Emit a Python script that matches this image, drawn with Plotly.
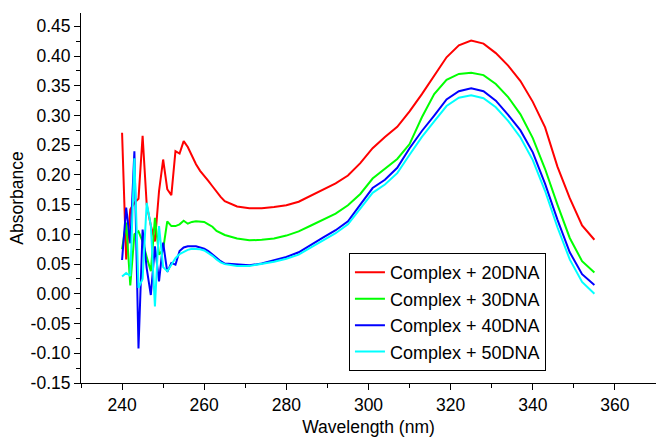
import plotly.graph_objects as go

wavelength = list(range(240, 266)) + [268, 271, 274, 277, 280, 283, 286, 289, 292, 295, 298,
                                      301, 304, 307, 310, 313, 316, 319, 322, 325, 328, 331,
                                      334, 337, 340, 343, 346, 349, 352, 355]

dna20 = [0.271, 0.058, 0.142, 0.153, 0.160, 0.266, 0.150, 0.115, 0.088, 0.173,
         0.226, 0.176, 0.166, 0.240, 0.236, 0.257, 0.247, 0.232, 0.218, 0.207,
         0.199, 0.190, 0.181, 0.171, 0.163, 0.156,
         0.147, 0.144, 0.144, 0.146, 0.149, 0.155, 0.165, 0.175, 0.186, 0.199, 0.220,
         0.245, 0.264, 0.281, 0.307, 0.336, 0.367, 0.398, 0.418, 0.426, 0.421, 0.405,
         0.384, 0.358, 0.323, 0.280, 0.214, 0.161, 0.115, 0.091]

dna30 = [0.075, 0.120, 0.014, 0.100, 0.105, 0.088, 0.062, 0.038, 0.128, 0.066,
         0.075, 0.122, 0.114, 0.114, 0.117, 0.123, 0.118, 0.121, 0.122, 0.122,
         0.121, 0.117, 0.113, 0.106, 0.102, 0.099,
         0.093, 0.090, 0.091, 0.093, 0.098, 0.105, 0.115, 0.125, 0.135, 0.149, 0.168,
         0.194, 0.210, 0.227, 0.252, 0.297, 0.336, 0.360, 0.370, 0.372, 0.368, 0.353,
         0.331, 0.302, 0.262, 0.210, 0.150, 0.094, 0.055, 0.036]

dna40 = [0.057, 0.145, 0.085, 0.240, -0.092, 0.108, 0.043, -0.002, 0.080, 0.021,
         0.086, 0.037, 0.052, 0.049, 0.072, 0.078, 0.080, 0.080, 0.080, 0.078,
         0.076, 0.072, 0.066, 0.060, 0.055, 0.051,
         0.049, 0.048, 0.051, 0.056, 0.062, 0.070, 0.083, 0.095, 0.107, 0.122, 0.150,
         0.178, 0.192, 0.212, 0.245, 0.274, 0.300, 0.327, 0.341, 0.346, 0.341, 0.325,
         0.301, 0.275, 0.238, 0.185, 0.125, 0.070, 0.033, 0.015]

dna50 = [0.029, 0.035, 0.030, 0.228, 0.010, 0.025, 0.153, 0.115, -0.021, 0.114,
         0.045, 0.038, 0.049, 0.060, 0.067, 0.071, 0.074, 0.076, 0.076, 0.075,
         0.073, 0.069, 0.064, 0.058, 0.053, 0.050,
         0.047, 0.047, 0.050, 0.054, 0.059, 0.066, 0.078, 0.090, 0.102, 0.117, 0.143,
         0.170, 0.184, 0.203, 0.234, 0.264, 0.290, 0.316, 0.330, 0.334, 0.329, 0.314,
         0.291, 0.263, 0.225, 0.173, 0.112, 0.058, 0.020, 0.000]

names = ["Complex + 20DNA", "Complex + 30DNA", "Complex + 40DNA", "Complex + 50DNA"]
colors = ["#FF0000", "#00FF00", "#0000FF", "#00FFFF"]
series = [dna20, dna30, dna40, dna50]

y_ticks = [-0.15, -0.10, -0.05, 0.0, 0.05, 0.10, 0.15, 0.20, 0.25, 0.30, 0.35, 0.40, 0.45]
y_labels = [f"{v:.2f}" for v in y_ticks]
x_ticks = [240, 260, 280, 300, 320, 340, 360]

fig = go.Figure()
for nm, col, ys in zip(names, colors, series):
    fig.add_trace(go.Scatter(x=wavelength, y=ys, mode="lines", name=nm,
                             line=dict(color=col, width=2)))

fam = "Liberation Sans, Arial, sans-serif"
tickfont = dict(family=fam, size=17.5, color="black")
titlefont = dict(family=fam, size=17.5, color="black")
legfont = dict(family=fam, size=18, color="black")

fig.update_layout(
    width=656, height=438,
    margin=dict(l=81, r=0, t=13, b=55),
    paper_bgcolor="white", plot_bgcolor="white",
    font=tickfont,
    showlegend=True,
    legend=dict(x=0.466, y=0.351, xanchor="left", yanchor="top",
                bgcolor="white", bordercolor="black", borderwidth=1,
                font=legfont, traceorder="normal"),
    xaxis=dict(range=[230, 370], tickvals=x_ticks,
               ticks="outside", ticklen=6, tickcolor="black", showline=True,
               linecolor="black", linewidth=1, showgrid=False, zeroline=False,
               tickfont=tickfont,
               minor=dict(dtick=10, tick0=230, ticks="outside", ticklen=4, tickcolor="black"),
               title=dict(text="Wavelength (nm)", font=titlefont, standoff=6)),
    yaxis=dict(range=[-0.15, 0.4725], tickvals=y_ticks, ticktext=y_labels,
               ticks="outside", ticklen=6, tickcolor="black",
               showline=True, linecolor="black", linewidth=1, showgrid=False, zeroline=False,
               tickfont=tickfont,
               minor=dict(dtick=0.025, tick0=-0.15, ticks="outside", ticklen=4, tickcolor="black"),
               title=dict(text="Absorbance", font=titlefont, standoff=2)),
)

fig.write_html("out.html")
